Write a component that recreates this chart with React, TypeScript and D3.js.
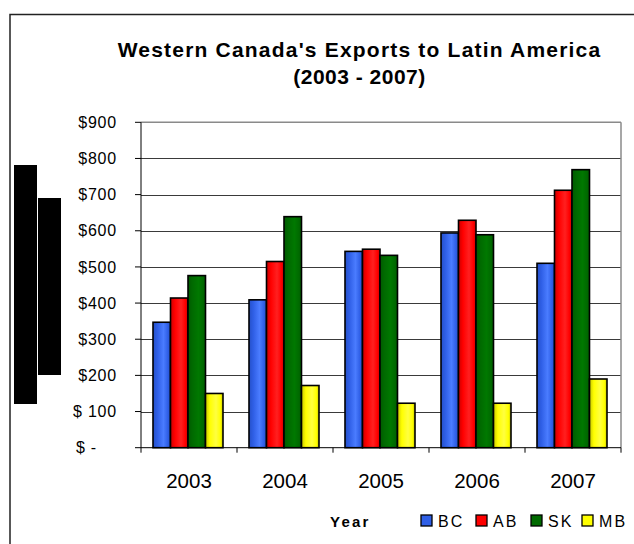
import React from "react";
import * as d3 from "d3";

const years = ["2003", "2004", "2005", "2006", "2007"];
const seriesNames = ["BC", "AB", "SK", "MB"];
const BC = [347, 409, 543, 594, 510];
const AB = [414, 515, 549, 629, 712];
const SK = [476, 639, 532, 589, 769];
const MB = [150, 172, 123, 123, 190];
const yTicks = [0, 100, 200, 300, 400, 500, 600, 700, 800, 900];
const yTickLabels = ["$ -", "$ 100", "$200", "$300", "$400", "$500", "$600", "$700", "$800", "$900"];

const seriesValues = [BC, AB, SK, MB];
const colors = [
  { base: "#2F5FE6", light: "#4A7CFF", dark: "#2550C8" },
  { base: "#FF0000", light: "#FF2020", dark: "#C80000" },
  { base: "#006A00", light: "#007800", dark: "#005A00" },
  { base: "#FFFF00", light: "#FFFF40", dark: "#C8C800" },
];

const W = 634;
const H = 544;
const plotL = 141;
const plotR = 621;
const plotT = 122.3;
const plotB = 447.7;

export default function App() {
  const x0 = d3.scaleBand<string>().domain(years).range([plotL, plotR]).padding(0);
  const step = x0.bandwidth();
  const x1 = d3.scaleBand<string>().domain(seriesNames).range([12, step - 14]).padding(0);
  const y = d3.scaleLinear().domain([0, 900]).range([plotB, plotT]);

  return (
    <svg
      width={W}
      height={H}
      style={{ position: "absolute", left: 0, top: 0, fontFamily: "'Liberation Sans', Arial, sans-serif" }}
    >
      <defs>
        {colors.map((c, i) => (
          <linearGradient key={i} id={`g${i}`} x1="0" x2="1" y1="0" y2="0">
            <stop offset="0" stopColor={c.dark} />
            <stop offset="0.25" stopColor={c.base} />
            <stop offset="0.6" stopColor={c.light} />
            <stop offset="0.85" stopColor={c.base} />
            <stop offset="1" stopColor={c.dark} />
          </linearGradient>
        ))}
      </defs>
      <rect x={0} y={0} width={W} height={H} fill="#fff" />
      {/* outer frame */}
      <rect x={10} y={14.5} width={W + 10} height={H + 10} fill="none" stroke="#222" strokeWidth={1.5} />

      {/* title */}
      <text x={359.5} y={56.5} textAnchor="middle" fontWeight="bold" fontSize={21} letterSpacing={1.2} fill="#000">
        Western Canada's Exports to Latin America
      </text>
      <text x={359.5} y={84} textAnchor="middle" fontWeight="bold" fontSize={21} letterSpacing={0.5} fill="#000">
        (2003 - 2007)
      </text>

      {/* gridlines */}
      {yTicks.slice(1, -1).map((t) => (
        <line key={t} x1={plotL} x2={plotR} y1={Math.round(y(t)) + 0.5} y2={Math.round(y(t)) + 0.5} stroke="#3a3a3a" strokeWidth={1} />
      ))}
      {/* plot border top/right */}
      <line x1={plotL} x2={plotR} y1={plotT} y2={plotT} stroke="#8a8a8a" strokeWidth={1.5} />
      <line x1={plotR} x2={plotR} y1={plotT} y2={plotB} stroke="#8a8a8a" strokeWidth={1.5} />

      {/* bars */}
      {years.map((yr, i) => (
        <g key={yr} transform={`translate(${x0(yr)},0)`}>
          {seriesNames.map((s, j) => {
            const v = seriesValues[j][i];
            return (
              <rect
                key={s}
                x={x1(s)}
                y={y(v)}
                width={x1.bandwidth()}
                height={plotB - y(v)}
                fill={`url(#g${j})`}
                stroke="#000"
                strokeWidth={1.6}
              />
            );
          })}
        </g>
      ))}

      {/* axes */}
      <line x1={plotL} x2={plotL} y1={plotT} y2={plotB} stroke="#000" strokeWidth={1} />
      <line x1={plotL} x2={plotR} y1={plotB} y2={plotB} stroke="#000" strokeWidth={1} />
      {yTicks.map((t, i) => (
        <g key={t}>
          <line x1={135} x2={plotL} y1={y(t)} y2={y(t)} stroke="#000" strokeWidth={1} />
          <text
            x={t === 0 ? 97 : 117}
            y={y(t)}
            dy="0.35em"
            textAnchor="end"
            fontSize={16}
            letterSpacing={0.8}
            fill="#000"
            style={{ whiteSpace: "pre" }}
          >
            {yTickLabels[i]}
          </text>
        </g>
      ))}
      {[...years.map((yr) => x0(yr) as number), plotR].map((xv, i) => (
        <line key={i} x1={xv} x2={xv} y1={plotB} y2={plotB + 5} stroke="#000" strokeWidth={1} />
      ))}
      {years.map((yr) => (
        <text key={yr} x={(x0(yr) as number) + step / 2} y={487.5} textAnchor="middle" fontSize={20.5} fill="#000">
          {yr}
        </text>
      ))}

      {/* legend */}
      <text x={330} y={526.5} fontWeight="bold" fontSize={15} letterSpacing={2.2} fill="#000">
        Year
      </text>
      {seriesNames.map((s, j) => {
        const lx = [421, 476, 531, 582][j];
        return (
          <g key={s}>
            <rect x={lx} y={515} width={11} height={11} fill={colors[j].base} stroke="#000" strokeWidth={1.3} />
            <text x={lx + 17} y={526.5} fontSize={16} letterSpacing={2.2} fill="#000">
              {s}
            </text>
          </g>
        );
      })}

      {/* redaction blocks */}
      <rect x={14} y={165} width={23} height={239} fill="#000" />
      <rect x={38} y={198} width={23} height={177} fill="#000" />
    </svg>
  );
}
